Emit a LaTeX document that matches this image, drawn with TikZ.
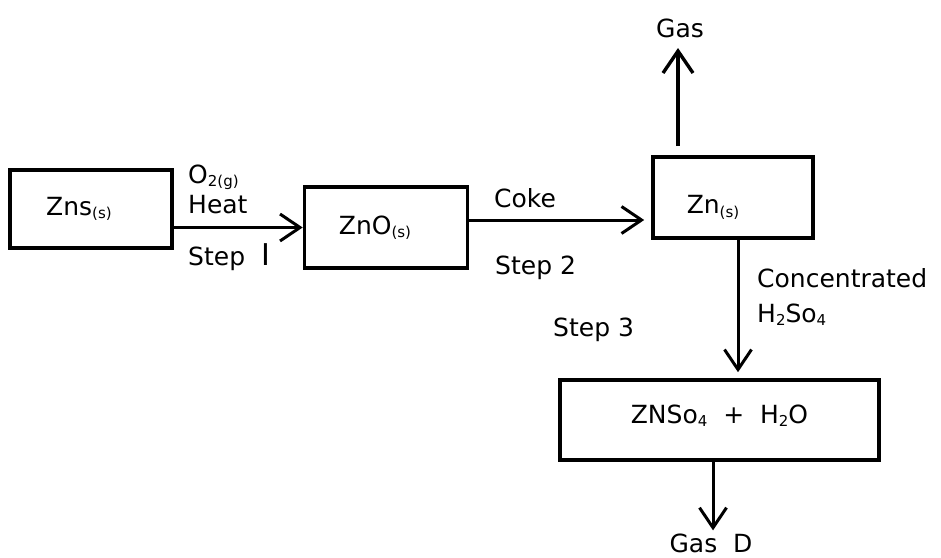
\documentclass[tikz,border=0pt]{standalone}
\usepackage{fontspec}
\setmainfont{DejaVu Sans}
\usetikzlibrary{arrows.meta}
\newcommand{\chsub}[1]{\raisebox{-0.25ex}{\fontsize{15}{15}\selectfont #1}}
\tikzset{
  box/.style={draw=black, line width=3.6pt, rectangle, inner sep=0pt},
  boxtext/.style={inner sep=0pt, font=\fontsize{25}{27}\selectfont},
  lbl/.style={anchor=west, inner sep=0pt, font=\fontsize{25}{27}\selectfont},
  flow/.style={line width=3pt, -{Straight Barb[length=20pt, width=27pt, line width=3pt]}},
  bigflow/.style={line width=3.6pt, -{Straight Barb[length=22pt, width=30pt, line width=3.4pt]}}
}
\begin{document}
\begin{tikzpicture}[x=1pt, y=-1pt]
\useasboundingbox (0,0) rectangle (941,557);
\fill[white] (0,0) rectangle (941,557);
% boxes
\node[box, minimum width=162pt, minimum height=78pt,
  label={[boxtext, xshift=-12pt]center:Zns\chsub{(s)}}] (zns) at (91,209) {};
\node[box, minimum width=163pt, minimum height=81pt,
  label={[boxtext, xshift=-11pt]center:ZnO\chsub{(s)}}] (zno) at (386,227.5) {};
\node[box, minimum width=160pt, minimum height=81pt,
  label={[boxtext, xshift=-20pt, yshift=-10pt]center:Zn\chsub{(s)}}] (zn) at (733,197.5) {};
\node[box, minimum width=319pt, minimum height=80pt,
  label={[boxtext, yshift=4pt]center:ZNSo\chsub{4}\ \ +\ \ H\chsub{2}O}] (prod) at (719.5,420) {};
% coordinates
\coordinate (c2) at (0,220);
\coordinate (gx) at (678,0);
\coordinate (gtop) at (678,48);
\coordinate (c3) at (738,0);
\coordinate (c4) at (713,0);
% labels
\node[lbl] (o2) at (188,177) {O\chsub{2(g)}};
\node[lbl] (heat) at (188,205) {Heat};
\node[lbl] (step1) at (188,257) {Step \ {\fontsize{30}{30}\selectfont I}};
\node[lbl] (coke) at (494,198) {Coke};
\node[lbl] (step2) at (495,268) {Step 2};
\node[lbl] (step3) at (553,330) {Step 3};
\node[lbl] (conc) at (757,278) {Concentrated};
\node[lbl] (h2so4) at (757,315) {H\chsub{2}So\chsub{4}};
\node[lbl, anchor=center] (gas) at (680,28) {Gas};
\node[lbl, anchor=center] (gasd) at (711,543) {Gas \ D};
% connectors
\draw[flow] (zns.east |- zno) -- (zno.west);
\draw[flow, shorten >=7pt] (zno.east |- c2) -- (zn.west |- c2);
\draw[bigflow, shorten <=9pt] (zn.north -| gx) -- (gtop);
\draw[flow, shorten >=6pt] (zn.south -| c3) -- (prod.north -| c3);
\draw[flow] (prod.south -| c4) -- ([yshift=3pt]gasd.north -| c4);
\end{tikzpicture}
\end{document}
